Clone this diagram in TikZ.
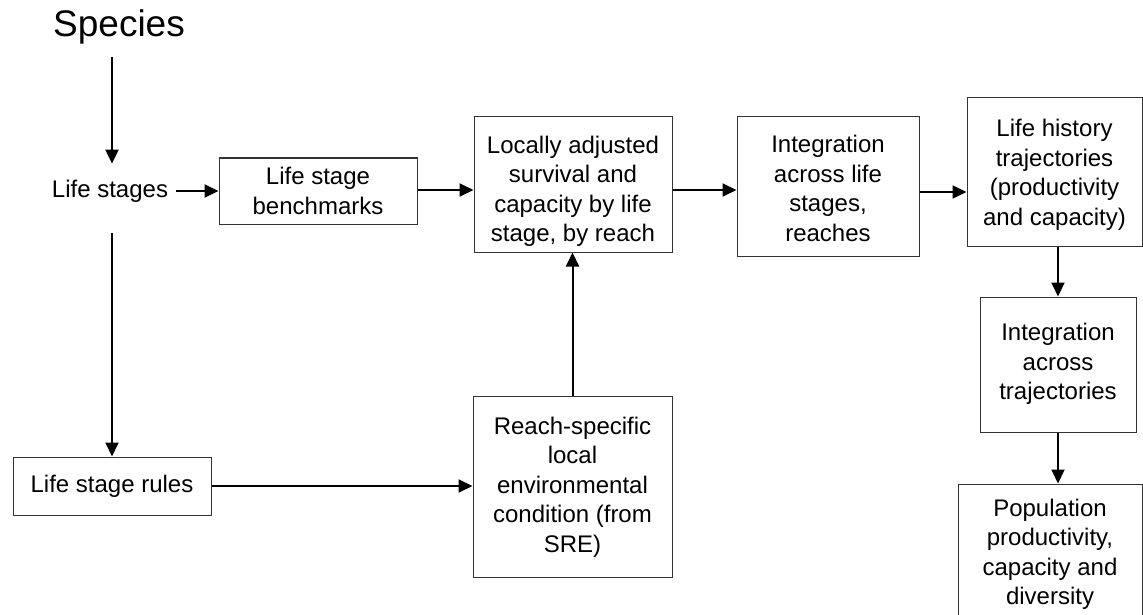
\documentclass[tikz,border=0pt]{standalone}
\usepackage{fontspec}
\setmainfont{Liberation Sans}
\usetikzlibrary{arrows.meta}
\newcommand\topstrut[1]{\rule{0pt}{#1}}
\tikzset{
  box/.style={draw=black!80, line width=1pt, inner sep=0pt, align=center,
    font=\fontsize{24}{29.5}\selectfont},
  plain/.style={inner sep=0pt, align=center, font=\fontsize{24}{29.5}\selectfont},
  conn/.style={line width=2pt, -{Triangle[length=14pt,width=13pt]}},
}
\begin{document}
\begin{tikzpicture}[x=1pt,y=-1pt]
\useasboundingbox (0,0) rectangle (1143,615);
% nodes
\node[plain, font=\fontsize{37}{40}\selectfont] (species) at (119,27) {Species};
\node[plain] (stages) at (110,191) {Life stages};
\node[box, minimum width=198pt, minimum height=66pt] (bench) at (318,191) {\topstrut{25.6pt}Life stage\\benchmarks\strut};
\node[box, minimum width=198pt, minimum height=135pt] (loc) at (573,184.5) {\topstrut{35pt}Locally adjusted\\survival and\\capacity by life\\stage, by reach\strut};
\node[box, minimum width=182pt, minimum height=139pt] (integ) at (828,186.5) {\topstrut{30pt}Integration\\across life\\stages,\\reaches\strut};
\node[box, minimum width=175pt, minimum height=148pt] (lh) at (1054.5,172) {\topstrut{26.6pt}Life history\\trajectories\\(productivity\\and capacity)\strut};
\node[box, minimum width=156pt, minimum height=135pt] (iat) at (1058,364.5) {\strut Integration\\across\\trajectories\strut};
\node[box, minimum width=184pt, minimum height=138pt] (pop) at (1050,553) {\topstrut{24pt}Population\\productivity,\\capacity and\\diversity\strut};
\node[box, minimum width=198pt, minimum height=58pt] (rules) at (112,486) {\topstrut{22.6pt}Life stage rules\strut};
\node[box, minimum width=199pt, minimum height=181pt] (reach) at (572.5,486.5) {\topstrut{22.6pt}Reach-specific\\local\\environmental\\condition (from\\SRE)\strut};
% connectors
\draw[conn, shorten <=13pt, shorten >=16pt] (species.south -| rules.north) -- (stages.north -| rules.north);
\draw[conn, shorten <=8pt] (stages.east) -- (bench.west);
\draw[conn] (bench.east) ++(0,-1) coordinate (b0) (b0) -- (b0 -| loc.west);
\draw[conn] (b0 -| loc.east) -- (b0 -| integ.west);
\draw[conn] (integ.east |- lh.west) ++(0,20) coordinate (i0) (i0) -- (i0 -| lh.west);
\draw[conn] (iat.north |- lh.south) -- (iat.north);
\draw[conn] (iat.south) -- (iat.south |- pop.north);
\draw[conn, shorten <=31pt] (stages.south -| rules.north) -- (rules.north);
\draw[conn] (rules.east) -- (reach.west |- rules.east);
\draw[conn] (reach.north) -- (reach.north |- loc.south);
\end{tikzpicture}
\end{document}
